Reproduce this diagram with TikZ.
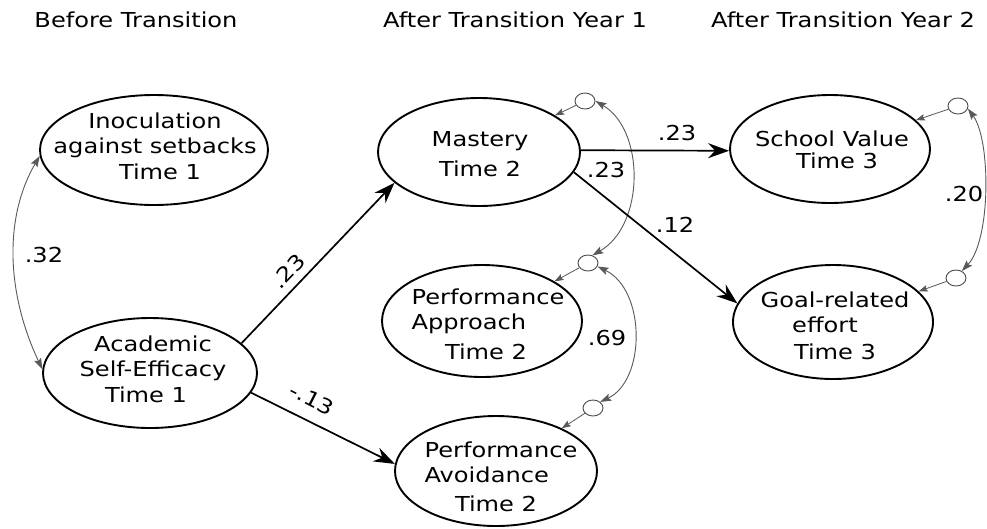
\documentclass[tikz,border=0pt]{standalone}
\usepackage{fontspec}
\newfontfamily\lab[FakeStretch=1.17]{DejaVu Sans}
\usetikzlibrary{arrows.meta,shapes.geometric}
\begin{document}
\begin{tikzpicture}[x=1pt,y=-1pt,
  latent/.style={draw, ellipse, line width=1.9pt, inner sep=0pt},
  resid/.style={draw=black!70, ellipse, line width=0.9pt, minimum width=20pt, minimum height=16pt, inner sep=0pt},
  txt/.style={font=\lab\fontsize{20.6}{25}\selectfont, align=center, inner sep=0pt},
  coef/.style={font=\lab\fontsize{20.6}{25}\selectfont, inner sep=0pt},
  regpath/.style={line width=1.7pt, -{Stealth[length=21pt,width=15pt,inset=7pt]}},
  resarrow/.style={draw=black!65, line width=0.8pt, -{Stealth[length=9pt,width=6.5pt,inset=1.5pt]}},
  covar/.style={draw=black!65, line width=0.9pt, {Stealth[length=11pt,width=7.5pt,inset=2pt]}-{Stealth[length=11pt,width=7.5pt,inset=2pt]}}
]
\fill[white] (0,0) rectangle (987,528);
\useasboundingbox (0,0) rectangle (987,528);

% headers
\node[coef, anchor=base] (h1) at (136,27) {Before Transition};
\node[coef, anchor=base] (h2) at (515,27) {After Transition Year 1};
\node[coef, anchor=base] (h3) at (843,27) {After Transition Year 2};

% latent variables
\node[latent, minimum width=228pt, minimum height=110pt] (ino) at (154,150) {};
\node[latent, minimum width=214pt, minimum height=110pt] (aca) at (150,373) {};
\node[latent, minimum width=202pt, minimum height=108pt] (mas) at (479,152) {};
\node[latent, minimum width=200pt, minimum height=108pt] (sv) at (830,149) {};
\node[latent, minimum width=200pt, minimum height=114pt] (gr) at (833,322) {};
\node[latent, minimum width=200pt, minimum height=112pt] (pa) at (482,321) {};
\node[latent, minimum width=202pt, minimum height=110pt] (pv) at (496,471) {};

% texts
\node[txt] (tino) at (155,146.2) {Inoculation\\against setbacks\\[1pt]\hspace*{10pt}Time 1};
\node[txt] (taca) at (153,369.7) {Academic\\Self-Efficacy\\[1pt]\hspace*{-14pt}Time 1};
\node[txt] (tmas) at (480,154.5) {Mastery\\[5pt]Time 2};
\node[txt] (tsv) at (832,150.2) {School Value\\[-3pt]\hspace*{10pt}Time 3};
\node[txt] (tgr) at (835,326) {Goal-related\\\hspace*{-20pt}effort\\[2pt]Time 3};
\node[txt] (tpa) at (488,324.7) {Performance\\\rlap{Approach}\hphantom{Performance}\\[5pt]\hspace*{-4pt}Time 2};
\node[txt] (tpv) at (501,477) {Performance\\\rlap{Avoidance}\hphantom{Performance}\\[4pt]\hspace*{-10pt}Time 2};

% residuals
\node[resid] (emas) at (585,101) {};
\node[resid] (epa) at (588,263) {};
\node[resid] (epv) at (593,408) {};
\node[resid] (esv) at (958,106) {};
\node[resid] (egr) at (956,278) {};

\draw[resarrow] (emas) -- (mas);
\draw[resarrow] (epa) -- (pa);
\draw[resarrow] (epv) -- (pv);
\draw[resarrow] (esv) -- (sv);
\draw[resarrow] (egr) -- (gr);

% covariances
\draw[covar] (ino.183) .. controls (5,215) and (5,290) .. (aca.178);
\draw[covar] (emas.east) .. controls (645,130) and (645,225) .. (epa.60);
\draw[covar] (epa.-20) .. controls (646,290) and (646,380) .. (epv.40);
\draw[covar] (esv.-15) .. controls (991,140) and (991,240) .. (egr.50);

% regression paths
\draw[regpath] (aca.18) -- (mas.200);
\draw[regpath] (aca.-11) -- (pv.176);
\draw[regpath] (mas.1) -- (sv.181);
\draw[regpath] (mas.-12) -- (gr.169);

% coefficients
\node[coef] (l32) at (44,255) {.32};
\node[coef, rotate=46] (l23a) at (288,271) {.23};
\node[coef, rotate=-27] (l13) at (312,399) {-.13};
\node[coef] (l23b) at (677,133) {.23};
\node[coef] (l12) at (675,225) {.12};
\node[coef] (l23c) at (606,170) {.23};
\node[coef] (l69) at (607,338) {.69};
\node[coef] (l20) at (964,194) {.20};
\end{tikzpicture}
\end{document}
